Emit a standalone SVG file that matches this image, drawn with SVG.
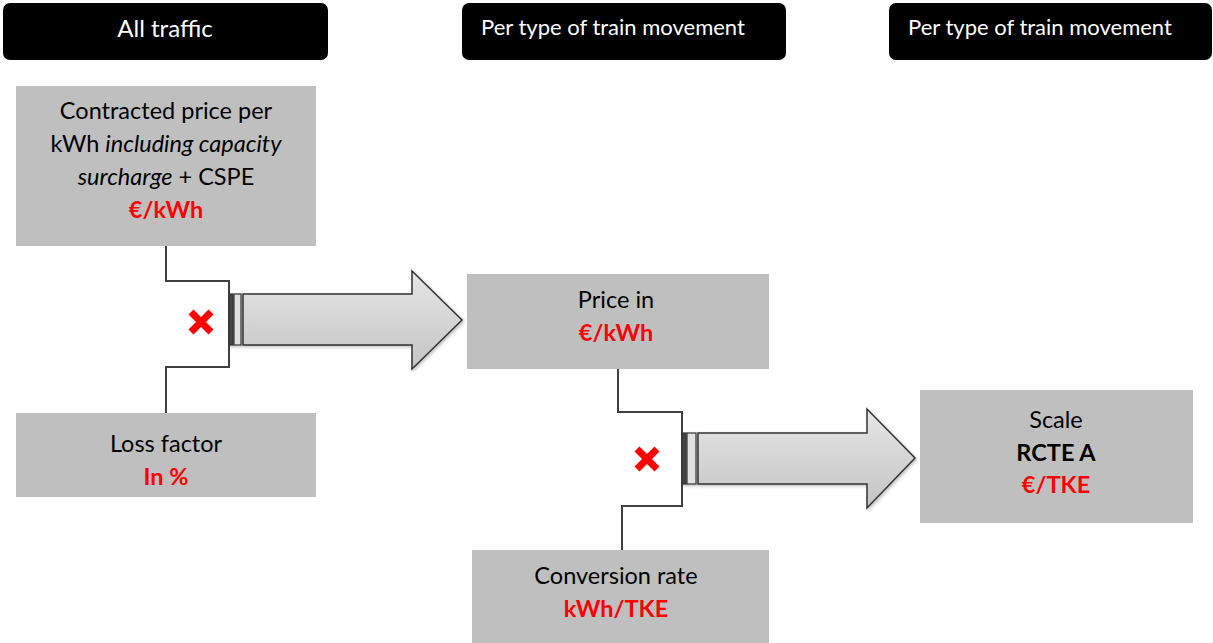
<svg xmlns="http://www.w3.org/2000/svg" width="1213" height="643" viewBox="0 0 1213 643">
<defs>
<linearGradient id="ag" x1="0" y1="0" x2="0" y2="1">
<stop offset="0" stop-color="#e6e6e6"/>
<stop offset="1" stop-color="#c4c4c4"/>
</linearGradient>
<filter id="sh" x="-10%" y="-10%" width="130%" height="130%">
<feDropShadow dx="1.5" dy="1.5" stdDeviation="1.5" flood-color="#000" flood-opacity="0.25"/>
</filter>
<style>
.hdr{fill:#000;}
.ht{fill:#fff;font-family:Lato,"Liberation Sans",sans-serif;}
.box{fill:#bfbfbf;}
.t{font-family:Lato,"Liberation Sans",sans-serif;font-size:23.5px;fill:#000;text-anchor:middle;}
.r{fill:#ff0000;font-weight:bold;}
.b{font-weight:bold;}
.i{font-style:italic;}
.ln{fill:none;stroke:#404040;stroke-width:2;}
.arr{fill:url(#ag);stroke:#333;stroke-width:1.5;stroke-linejoin:miter;}
.bar{stroke:#333;stroke-width:1.2;}
.x{stroke:#ff0000;stroke-width:7;stroke-linecap:butt;}
</style>
</defs>
<rect width="1213" height="643" fill="#fff"/>

<g id="header-all-traffic">
<rect class="hdr" x="3" y="3" width="325" height="57" rx="7"/>
<text class="ht" x="165" y="37" font-size="24" text-anchor="middle">All traffic</text>
</g>
<g id="header-per-type-1">
<rect class="hdr" x="462" y="3" width="324" height="57" rx="7"/>
<text class="ht" x="481" y="35" font-size="22">Per type of train movement</text>
</g>
<g id="header-per-type-2">
<rect class="hdr" x="889" y="3" width="323" height="57" rx="7"/>
<text class="ht" x="908" y="35" font-size="22">Per type of train movement</text>
</g>

<g id="connectors">
<path class="ln" d="M166,246 V281 H229 V367 H166 V413"/>
<path class="ln" d="M618,369 V412 H682 V506 H622 V550"/>
<g filter="url(#sh)">
<rect x="229" y="294" width="4" height="51" fill="#444" class="bar"/>
<rect x="234" y="294" width="7" height="51" fill="#e0e0e0" class="bar"/>
<path class="arr" d="M243,294 H412 V271 L462,320 L412,369 V345 H243 Z"/>
</g>
<g filter="url(#sh)">
<rect x="682" y="433" width="4" height="51" fill="#444" class="bar"/>
<rect x="687" y="433" width="9" height="51" fill="#e0e0e0" class="bar"/>
<path class="arr" d="M698,433 H867 V409 L915,458 L867,508 V484 H698 Z"/>
</g>
</g>

<g id="multiply-1">
<path class="x" d="M191,312 L211,332 M211,312 L191,332"/>
</g>
<g id="multiply-2">
<path class="x" d="M637,449 L657,469 M657,449 L637,469"/>
</g>

<g id="contracted-price">
<rect class="box" x="16" y="86" width="300" height="160"/>
<text class="t" x="166" y="119">Contracted price per</text>
<text class="t" x="166" y="152">kWh <tspan class="i">including capacity</tspan></text>
<text class="t" x="166" y="185"><tspan class="i">surcharge</tspan> + CSPE</text>
<text class="t r" x="166" y="218">€/kWh</text>
</g>

<g id="loss-factor">
<rect class="box" x="16" y="413" width="300" height="84"/>
<text class="t" x="166" y="452">Loss factor</text>
<text class="t r" x="166" y="485">In %</text>
</g>

<g id="price-in">
<rect class="box" x="467" y="274" width="302" height="95"/>
<text class="t" x="616" y="308">Price in</text>
<text class="t r" x="616" y="341">€/kWh</text>
</g>

<g id="conversion-rate">
<rect class="box" x="472" y="550" width="297" height="93"/>
<text class="t" x="616" y="584">Conversion rate</text>
<text class="t r" x="616" y="617">kWh/TKE</text>
</g>

<g id="scale">
<rect class="box" x="920" y="390" width="273" height="133"/>
<text class="t" x="1056" y="428">Scale</text>
<text class="t b" x="1056" y="461">RCTE A</text>
<text class="t r" x="1056" y="493">€/TKE</text>
</g>
</svg>
